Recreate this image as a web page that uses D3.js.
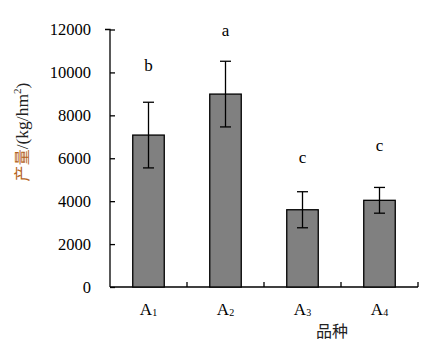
<!DOCTYPE html>
<html><head><meta charset="utf-8">
<script src="https://cdn.jsdelivr.net/npm/d3@7"></script>
<style>body{margin:0;background:#fff}svg{display:block}</style>
</head><body>
<svg id="c" width="437" height="354"></svg>
<script>
const categories = ["A1","A2","A3","A4"];
const subs = ["1","2","3","4"];
const values = [7080, 8990, 3600, 4040];
const errors = [1530, 1530, 840, 600];
const letters = ["b","a","c","c"];
const letterPos = [10050, 11700, 5800, 6350];
const yTicks = [0,2000,4000,6000,8000,10000,12000];

const svg = d3.select("#c");
const m = {l:110, r:19, t:29.5, b:67};
const W = 437, H = 354;
const x = d3.scaleBand().domain(categories).range([m.l, W-m.r]).paddingInner(0).paddingOuter(0);
const y = d3.scaleLinear().domain([0,12000]).range([H-m.b, m.t]);
const serif = "'Liberation Serif','Times New Roman',serif";

// y axis
const ya = svg.append("g").attr("transform",`translate(${m.l},0)`)
  .call(d3.axisLeft(y).tickValues(yTicks).tickSize(-5).tickPadding(19).tickFormat(d3.format("d")));
ya.selectAll("text").attr("font-family",serif).attr("font-size",16.5).attr("fill","#000");
ya.selectAll("line,path").attr("stroke","#000").attr("stroke-width",1.3);
ya.select(".domain").attr("d",`M-5,${m.t}H0V${H-m.b}`);

// x axis
const xa = svg.append("g").attr("transform",`translate(0,${H-m.b})`);
xa.append("line").attr("x1",m.l).attr("x2",W-m.r).attr("stroke","#000").attr("stroke-width",1.3);
const bounds = categories.map(c=>x(c)).concat([W-m.r]).slice(1);
const centers = categories.map(c=>x(c)+x.bandwidth()/2);

// bars
const bw = 31.5;
svg.selectAll("rect.bar").data(values).join("rect")
  .attr("x",(d,i)=>centers[i]-bw/2).attr("y",d=>y(d))
  .attr("width",bw).attr("height",d=>y(0)-y(d))
  .attr("fill","#808080").attr("stroke","#000").attr("stroke-width",1.3);

// ticks
bounds.concat(centers).forEach(t=>{
  xa.append("line").attr("x1",t).attr("x2",t).attr("y1",0).attr("y2",-5).attr("stroke","#000").attr("stroke-width",1.3);
});

// error bars
const eg = svg.append("g").attr("stroke","#000").attr("stroke-width",1.3);
values.forEach((v,i)=>{
  const cx = centers[i];
  eg.append("line").attr("x1",cx).attr("x2",cx).attr("y1",y(v-errors[i])).attr("y2",y(v+errors[i]));
  eg.append("line").attr("x1",cx-5.5).attr("x2",cx+5.5).attr("y1",y(v+errors[i])).attr("y2",y(v+errors[i]));
  eg.append("line").attr("x1",cx-5.5).attr("x2",cx+5.5).attr("y1",y(v-errors[i])).attr("y2",y(v-errors[i]));
});

// letters
svg.selectAll("text.let").data(letters).join("text")
  .attr("x",(d,i)=>centers[i]).attr("y",(d,i)=>y(letterPos[i]))
  .attr("text-anchor","middle").attr("font-family",serif).attr("font-size",17).text(d=>d);

// x labels
categories.forEach((c,i)=>{
  const t = svg.append("text").attr("x",centers[i]).attr("y",315).attr("text-anchor","middle")
    .attr("font-family",serif).attr("font-size",17);
  t.append("tspan").text("A");
  t.append("tspan").attr("font-size",10).attr("dy",1).text(subs[i]);
});
svg.append("text").attr("x",332).attr("y",337).attr("text-anchor","middle")
  .attr("font-family","'Noto Sans CJK SC',serif").attr("font-size",16).attr("fill","#222").text("品种");

// y label
const yl = svg.append("text").attr("transform","translate(28,132) rotate(-90)").attr("text-anchor","middle")
  .attr("font-family",serif).attr("font-size",17.5);
yl.append("tspan").attr("fill","#b5651d").attr("font-family","'Noto Sans CJK SC',serif").attr("font-size",16).text("产量");
yl.append("tspan").attr("fill","#222").text("/(kg/hm");
yl.append("tspan").attr("fill","#222").attr("font-size",11).attr("dy",-7).text("2");
yl.append("tspan").attr("fill","#222").attr("dy",7).text(")");
</script>
</body></html>
